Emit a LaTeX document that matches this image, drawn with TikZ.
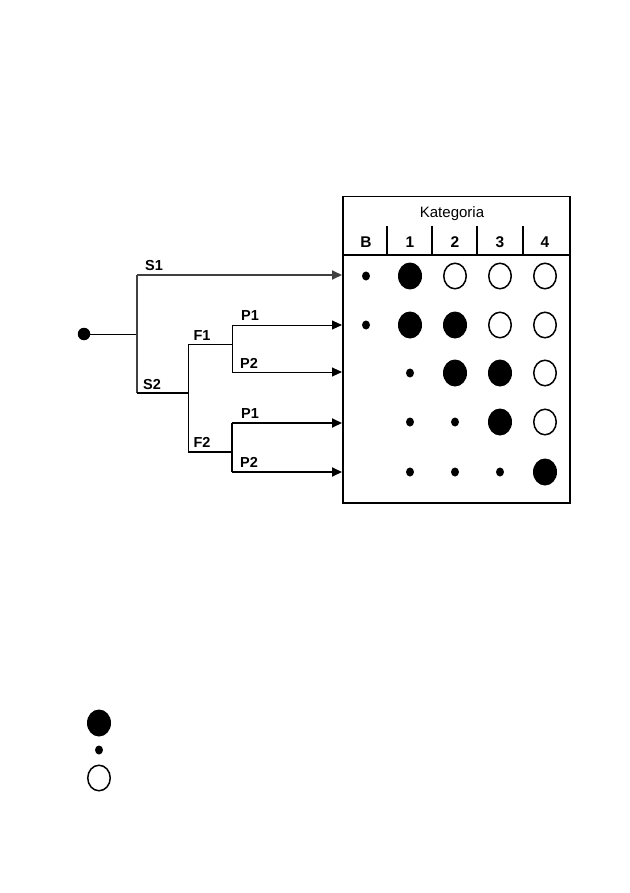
\documentclass[tikz,border=0pt]{standalone}
\usepackage{fontspec}
\setmainfont{Liberation Sans}
\usetikzlibrary{arrows.meta,shapes.geometric}
\begin{document}
\begin{tikzpicture}[x=1pt,y=-1pt,
  lbl/.style={font=\fontsize{14.5}{14.5}\selectfont\bfseries, inner sep=0pt, anchor=base},
  hd/.style={font=\fontsize{15.5}{15.5}\selectfont\bfseries, inner sep=0pt, anchor=base},
  big/.style={ellipse, fill=black, minimum width=24pt, minimum height=27pt, inner sep=0pt},
  opn/.style={ellipse, draw=black, line width=1.5pt, fill=white, minimum width=22.5pt, minimum height=25.5pt, inner sep=0pt},
  sml/.style={ellipse, fill=black, minimum width=8pt, minimum height=9pt, inner sep=0pt},
  thin/.style={line width=0.9pt},
  thick2/.style={line width=1.8pt},
  arr/.style={-{Triangle[length=10pt,width=9pt]}}
]
\useasboundingbox (0,0) rectangle (629,893);

% box
\node[draw, line width=1.5pt, minimum width=227pt, minimum height=306pt, anchor=north west, inner sep=0pt] (box) at (342,196) {};
\draw[line width=1.1pt] (342,255) -- (569,255);
\foreach \x in {387,432,477,523} \draw[line width=2.2pt] (\x,226) -- (\x,254);
\node[font=\fontsize{15}{15}\selectfont, inner sep=0pt, anchor=base] (kat) at (452,217.5) {Kategoria};
\node[hd] (hB) at (366,247.5) {B};
\node[hd] (h1) at (410,247.5) {1};
\node[hd] (h2) at (455,247.5) {2};
\node[hd] (h3) at (500,247.5) {3};
\node[hd] (h4) at (545,247.5) {4};

% row 1
\node[sml] (a0) at (366,276) {};
\node[big] (a1) at (410,276) {};
\node[opn] (a2) at (455,276) {};
\node[opn] (a3) at (500,276) {};
\node[opn] (a4) at (545,276) {};
% row 2
\node[sml] (b0) at (366,325) {};
\node[big] (b1) at (410,325) {};
\node[big] (b2) at (455,325) {};
\node[opn] (b3) at (500,325) {};
\node[opn] (b4) at (545,325) {};
% row 3
\node[sml] (c1) at (410,373) {};
\node[big] (c2) at (455,373) {};
\node[big] (c3) at (500,373) {};
\node[opn] (c4) at (545,373) {};
% row 4
\node[sml] (d1) at (410,422) {};
\node[sml] (d2) at (455,422) {};
\node[big] (d3) at (500,422) {};
\node[opn] (d4) at (545,422) {};
% row 5
\node[sml] (e1) at (410,472) {};
\node[sml] (e2) at (455,472) {};
\node[sml] (e3) at (500,472) {};
\node[big] (e4) at (545,472) {};

% tree
\node[circle, fill=black, minimum size=12.5pt, inner sep=0pt] (root) at (84,334) {};
\coordinate (j0) at (137,334);
\coordinate (s1a) at (137,275);
\coordinate (s1b) at (342,275);
\coordinate (s2a) at (137,393);
\coordinate (s2b) at (188,393);
\coordinate (f1a) at (188,344);
\coordinate (f1b) at (232,344);
\coordinate (f2a) at (188,452);
\coordinate (f2b) at (232,452);
\coordinate (p11a) at (232,325);
\coordinate (p11b) at (342,325);
\coordinate (p12a) at (232,372);
\coordinate (p12b) at (342,372);
\coordinate (p21a) at (232,423);
\coordinate (p21b) at (342,423);
\coordinate (p22a) at (232,472);
\coordinate (p22b) at (342,472);

\draw[thin] (root) -- (j0);
\draw[thick2, black!75] (s1a) -- (s2a);
\draw[thick2, black!75, arr] (s1a) -- (s1b);
\draw[thick2] (s2a) -- (s2b);
\draw[thin] (f1a) -- (f2a);
\draw[thin] (f1a) -- (f1b);
\draw[thin] (p11a) -- (p12a);
\draw[thin, arr] (p11a) -- (p11b);
\draw[thin, arr] (p12a) -- (p12b);
\draw[thick2] (f2a) -- (f2b);
\draw[thick2] (p21a) -- (p22a);
\draw[thick2, arr] (p21a) -- (p21b);
\draw[thick2, arr] (p22a) -- (p22b);

\node[lbl] (ls1) at (154,270) {S1};
\node[lbl] (ls2) at (152,389) {S2};
\node[lbl] (lf1) at (202,340) {F1};
\node[lbl] (lf2) at (202,447) {F2};
\node[lbl] (lp11) at (250,320) {P1};
\node[lbl] (lp12) at (249,368) {P2};
\node[lbl] (lp21) at (250,418) {P1};
\node[lbl] (lp22) at (249,467) {P2};

% legend
\node[big] (g1) at (99,723) {};
\node[sml] (g2) at (99,750) {};
\node[opn] (g3) at (99,778) {};
\end{tikzpicture}
\end{document}
